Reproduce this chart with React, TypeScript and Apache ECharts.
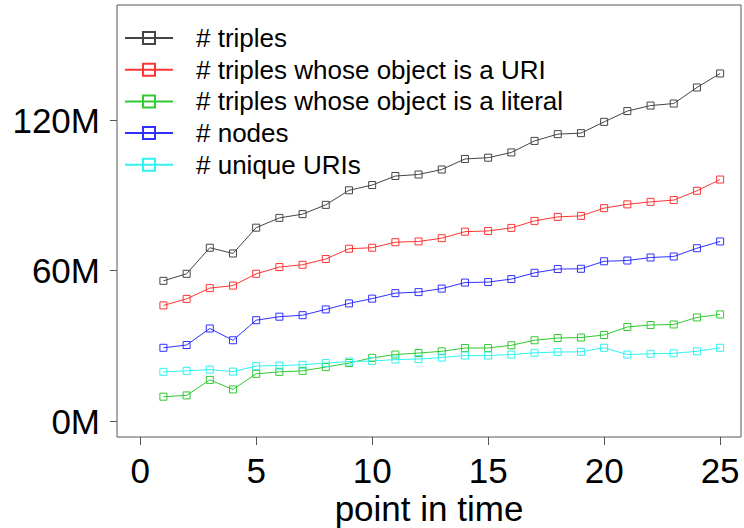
import React, { useEffect, useRef } from "react";
import * as echarts from "echarts";

const timePoints = [1, 2, 3, 4, 5, 6, 7, 8, 9, 10, 11, 12, 13, 14, 15, 16, 17, 18, 19, 20, 21, 22, 23, 24, 25];

const triples = [55.9, 58.7, 69.1, 66.8, 77.1, 81.0, 82.5, 86.2, 92.0, 94.1, 97.7, 98.3, 100.3, 104.5, 105.0, 107.1, 111.7, 114.4, 114.8, 119.3, 123.6, 125.8, 126.6, 133.0, 138.6];
const triplesUri = [46.1, 48.7, 53.0, 54.0, 58.7, 61.4, 62.3, 64.6, 68.7, 69.1, 71.3, 71.6, 72.9, 75.5, 75.8, 77.0, 79.8, 81.4, 81.8, 84.9, 86.4, 87.4, 88.1, 91.8, 96.3];
const triplesLiteral = [9.7, 10.2, 16.4, 12.6, 18.8, 19.6, 20.0, 21.5, 23.1, 25.2, 26.5, 27.1, 27.8, 29.1, 29.1, 30.2, 32.2, 33.1, 33.3, 34.3, 37.5, 38.3, 38.5, 41.3, 42.5];
const nodes = [29.2, 30.3, 36.9, 32.2, 40.2, 41.6, 42.2, 44.5, 46.9, 48.8, 51.0, 51.4, 52.8, 55.2, 55.4, 56.6, 59.1, 60.6, 60.7, 63.7, 64.0, 65.2, 65.6, 68.9, 71.6];
const uniqueUris = [19.6, 20.0, 20.5, 19.7, 21.9, 22.1, 22.4, 23.1, 23.7, 23.9, 24.5, 24.7, 25.3, 26.1, 26.1, 26.5, 27.2, 27.5, 27.6, 29.2, 26.5, 26.8, 27.0, 27.8, 29.2];

const seriesNames = [
  "# triples",
  "# triples whose object is a URI",
  "# triples whose object is a literal",
  "# nodes",
  "# unique URIs",
];
const seriesValues = [triples, triplesUri, triplesLiteral, nodes, uniqueUris];
const seriesColors = ["#454545", "#ff3535", "#33c933", "#3030ff", "#30f2f2"];

const xTicks = [0, 5, 10, 15, 20, 25];
const yTicks = [0, 60, 120];

const FONT = "Liberation Sans, Arial, Helvetica, sans-serif";

export default function App() {
  const ref = useRef<HTMLDivElement>(null);

  useEffect(() => {
    if (!ref.current) return;
    const chart = echarts.init(ref.current, undefined, { renderer: "svg" });

    const series = seriesNames.map((name, i) => ({
      name,
      type: "line",
      data: timePoints.map((t, j) => [t, seriesValues[i][j]]),
      color: seriesColors[i],
      symbol: "rect",
      symbolSize: 7,
      showSymbol: true,
      lineStyle: { color: seriesColors[i], width: 1 },
      itemStyle: { color: "transparent", borderColor: seriesColors[i], borderWidth: 1 },
      emphasis: { disabled: true },
    }));

    chart.setOption({
      animation: false,
      backgroundColor: "#ffffff",
      textStyle: { fontFamily: FONT },
      grid: {
        left: 117,
        top: 5,
        width: 624,
        height: 432,
        show: true,
        borderColor: "#555555",
        borderWidth: 1,
        containLabel: false,
        outerBoundsMode: "none",
      },
      legend: {
        show: true,
        orient: "vertical",
        left: 124,
        top: 25,
        padding: 0,
        itemWidth: 48,
        itemHeight: 15,
        itemGap: 5.7,
        selectedMode: false,
        data: seriesNames,
        textStyle: {
          fontFamily: FONT,
          fontSize: 26,
          color: "#000000",
          lineHeight: 26,
          padding: [0, 0, 0, 18],
        },
      },
      xAxis: {
        type: "value",
        min: -1,
        max: 25.9,
        name: "point in time",
        nameLocation: "middle",
        nameGap: 58,
        nameMoveOverlap: false,
        nameTextStyle: { fontFamily: FONT, fontSize: 35, lineHeight: 26, color: "#000000" },
        axisLine: { show: false, onZero: false },
        splitLine: { show: false },
        axisTick: {
          show: true,
          length: 8,
          customValues: xTicks,
          lineStyle: { color: "#555555", width: 1 },
        },
        axisLabel: {
          customValues: xTicks,
          fontFamily: FONT,
          fontSize: 35,
          color: "#000000",
          margin: 16,
        },
      },
      yAxis: {
        type: "value",
        min: -6.38,
        max: 165.9,
        axisLine: { show: false, onZero: false },
        splitLine: { show: false },
        axisTick: {
          show: true,
          length: 7,
          customValues: yTicks,
          lineStyle: { color: "#555555", width: 1 },
        },
        axisLabel: {
          customValues: yTicks,
          fontFamily: FONT,
          fontSize: 35,
          color: "#000000",
          margin: 17,
          formatter: (v: number) => `${Math.round(v)}M`,
        },
      },
      series,
    });

    return () => chart.dispose();
  }, []);

  return (
    <div
      ref={ref}
      style={{ position: "fixed", left: 0, top: 0, width: 744, height: 528 }}
    />
  );
}
